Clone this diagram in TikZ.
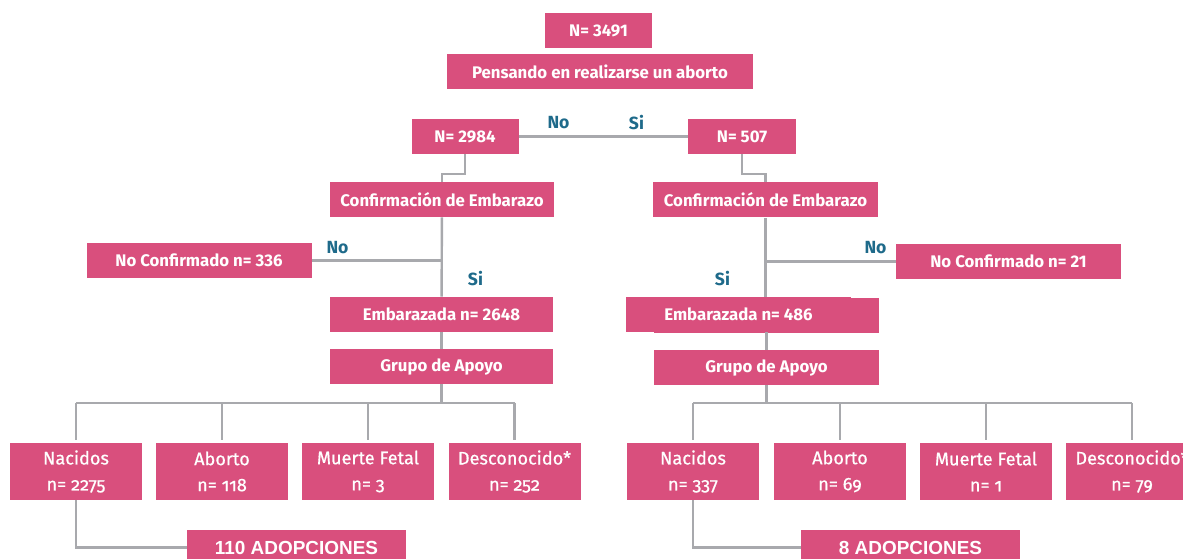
\documentclass[tikz,border=0pt]{standalone}
\usepackage{fontspec}
\setmainfont{Fira Sans}
\newfontfamily\adopfont{Liberation Sans}
\definecolor{boxPink}{RGB}{217,79,125}
\definecolor{lineGrey}{RGB}{168,169,173}
\definecolor{labelBlue}{RGB}{30,106,138}
\newcommand{\px}{0.75pt}

\begin{document}
\begin{tikzpicture}[x = 0.75pt, y = -0.75pt]
	\tikzstyle{boxStyle} = [shape = rectangle, fill = boxPink, text = white, inner sep = 0pt, minimum height = 35*\px, font = {\fontsize{12.6}{15}\selectfont\bfseries}]
	\tikzstyle{outcomeStyle} = [shape = rectangle, fill = boxPink, text = white, inner sep = 0pt, minimum width = 132*\px, minimum height = 57*\px, align = center, font = {\fontsize{13.6}{19.5}\selectfont\addfontfeatures{Numbers = OldStyle, FakeBold = 0.6}}]
	\tikzstyle{adoptStyle} = [shape = rectangle, fill = boxPink, text = white, inner sep = 0pt, minimum width = 219*\px, minimum height = 35*\px, font = {\adopfont\fontsize{14.2}{16}\selectfont\bfseries}]
	\tikzstyle{branchStyle} = [text = labelBlue, inner sep = 0pt, font = {\fontsize{13.2}{15}\selectfont\bfseries}]
	\tikzstyle{edgeStyle} = [draw = lineGrey, line width = 1.8pt]
	\useasboundingbox (0, 0) rectangle (1183, 559);
	\clip (0, 0) rectangle (1183, 559);
	\node[boxStyle, minimum width = 107*\px] (n3491) at (598.5, 30.5) {N= 3491};
	\node[boxStyle, minimum width = 306*\px] (pensando) at (600.0, 71.5) {Pensando en realizarse un aborto};
	\node[boxStyle, minimum width = 107*\px] (n2984) at (465.0, 136.5) {N= 2984};
	\node[boxStyle, minimum width = 108*\px] (n507) at (742.0, 136.5) {N= 507};
	\node[boxStyle, minimum width = 224*\px] (conf1) at (442.0, 199.5) {Confirmación de Embarazo};
	\node[boxStyle, minimum width = 225*\px] (conf2) at (765.5, 200.0) {Confirmación de Embarazo};
	\node[boxStyle, minimum width = 225*\px] (noconf1) at (199.0, 260.5) {No Confirmado n= 336};
	\node[boxStyle, minimum width = 225*\px] (noconf2) at (1008.5, 261.5) {No Confirmado n= 21};
	\node[boxStyle, minimum width = 223*\px] (emb1) at (441.5, 314.5) {Embarazada n= 2648};
	\fill[boxPink] (654, 298) rectangle (879, 333);
	\node[boxStyle, minimum width = 225*\px] (emb2) at (738.5, 314.5) {Embarazada n= 486};
	\node[boxStyle, minimum width = 223*\px] (grupo1) at (441.5, 366.5) {Grupo de Apoyo};
	\node[boxStyle, minimum width = 225*\px] (grupo2) at (766.5, 367.5) {Grupo de Apoyo};
	\node[outcomeStyle] (nac1) at (76.0, 471.5) {Nacidos\\n= 2275};
	\node[outcomeStyle] (abo1) at (222.0, 471.5) {Aborto\\n= 118};
	\node[outcomeStyle] (mue1) at (368.0, 471.5) {Muerte Fetal\\n= 3};
	\node[outcomeStyle] (des1) at (514.5, 471.5) {Desconocido*\\n= 252};
	\node[outcomeStyle] (nac2) at (693.0, 471.5) {Nacidos\\n= 337};
	\node[outcomeStyle] (abo2) at (840.0, 471.5) {Aborto\\n= 69};
	\node[outcomeStyle] (mue2) at (986.0, 471.5) {Muerte Fetal\\n= 1};
	\node[outcomeStyle] (des2) at (1132.0, 471.5) {Desconocido*\\n= 79};
	\node[adoptStyle] (adop1) at (296.5, 547.5) {110 ADOPCIONES};
	\node[adoptStyle] (adop2) at (910.5, 547.5) {8 ADOPCIONES};
	\node[branchStyle] (no1) at (558.5, 122.5) {No};
	\node[branchStyle] (si1) at (636.5, 122.5) {Si};
	\node[branchStyle] (no2) at (337.5, 247.5) {No};
	\node[branchStyle] (si2) at (475.5, 279.0) {Si};
	\node[branchStyle] (no3) at (875.5, 247.5) {No};
	\node[branchStyle] (si3) at (722.5, 279.0) {Si};
	\coordinate (split1) at (465.0, 174);
	\coordinate (split2) at (742.0, 174);
	\coordinate (bus1) at (441.5, 403);
	\coordinate (bus2) at (766.5, 403);
	\draw[edgeStyle] (n2984) -- (n507);
	\draw[edgeStyle] (n2984) -- (split1) -| (conf1);
	\draw[edgeStyle] (n507) -- (split2) -| (conf2);
	\draw[edgeStyle] (conf1) -- (emb1);
	\draw[edgeStyle] (noconf1) -- (noconf1 -| conf1);
	\draw[edgeStyle] (emb1) -- (grupo1);
	\draw[edgeStyle] (conf2.south) -- (conf2.south |- emb2.north);
	\draw[edgeStyle] (noconf2) -- (noconf2 -| conf2);
	\draw[edgeStyle] (emb2.south -| grupo2) -- (grupo2);
	\draw[edgeStyle] (grupo1) -- (bus1);
	\draw[edgeStyle] (nac1 |- bus1) -- (des1 |- bus1);
	\draw[edgeStyle, shorten > = 2pt] (nac1 |- bus1) -- (nac1);
	\draw[edgeStyle, shorten > = 2pt] (abo1 |- bus1) -- (abo1);
	\draw[edgeStyle, shorten > = 2pt] (mue1 |- bus1) -- (mue1);
	\draw[edgeStyle, shorten > = 2pt] (des1 |- bus1) -- (des1);
	\draw[edgeStyle] (grupo2) -- (bus2);
	\draw[edgeStyle] (nac2 |- bus2) -- (des2 |- bus2);
	\draw[edgeStyle, shorten > = 2pt] (nac2 |- bus2) -- (nac2);
	\draw[edgeStyle, shorten > = 2pt] (abo2 |- bus2) -- (abo2);
	\draw[edgeStyle, shorten > = 2pt] (mue2 |- bus2) -- (mue2);
	\draw[edgeStyle, shorten > = 2pt] (des2 |- bus2) -- (des2);
	\draw[edgeStyle] (nac1) |- (adop1);
	\draw[edgeStyle] (nac2) |- (adop2);
\end{tikzpicture}
\end{document}
